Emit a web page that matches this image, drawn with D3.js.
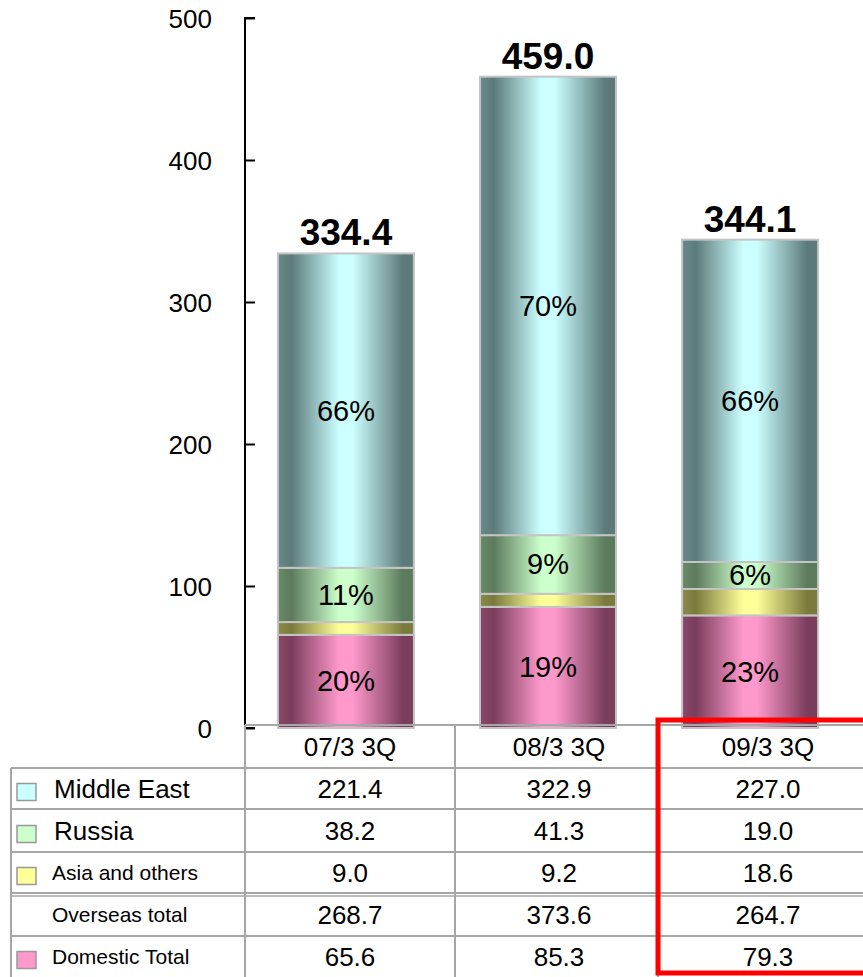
<!DOCTYPE html>
<html><head><meta charset="utf-8">
<script src="https://cdn.jsdelivr.net/npm/d3@7"></script>
<style>body{margin:0;background:#fff;}svg{display:block;font-family:"Liberation Sans",Arial,sans-serif;}</style>
</head><body>
<svg id="c" width="863" height="977"></svg>
<script>
const categories = ["07/3 3Q", "08/3 3Q", "09/3 3Q"];
const domestic = [65.6, 85.3, 79.3];
const asia = [9.0, 9.2, 18.6];
const russia = [38.2, 41.3, 19.0];
const middleEast = [221.4, 322.9, 227.0];
const overseasTotal = [268.7, 373.6, 264.7];
const totals = ["334.4", "459.0", "344.1"];
const shareDomestic = ["20%", "19%", "23%"];
const shareRussia = ["11%", "9%", "6%"];
const shareMiddleEast = ["66%", "70%", "66%"];
const yTicks = [0, 100, 200, 300, 400, 500];

const seriesNames = ["Domestic Total", "Asia and others", "Russia", "Middle East"];
const seriesValues = [domestic, asia, russia, middleEast];
const seriesShares = [shareDomestic, null, shareRussia, shareMiddleEast];
const lightCol = ["#ff99cc", "#ffff99", "#ccffcc", "#ccffff"];
const darkCol = ["#7a3d5c", "#7a7a3d", "#5c7a5c", "#5c7a7a"];

const svg = d3.select("#c");
const y = d3.scaleLinear().domain([0, 500]).range([728, 18]);
const x = d3.scaleBand().domain(categories).range([245, 851]).paddingInner(0.327).paddingOuter(0.163);

// gradients
const defs = svg.append("defs");
seriesNames.forEach((n, i) => {
  const g = defs.append("linearGradient").attr("id", "g" + i).attr("x1", "0").attr("x2", "1").attr("y1", "0").attr("y2", "0");
  [[0, d3.interpolateRgb(darkCol[i], lightCol[i])(0.12)], [0.1, darkCol[i]], [0.45, lightCol[i]], [0.55, lightCol[i]], [0.92, darkCol[i]], [1, darkCol[i]]]
    .forEach(s => g.append("stop").attr("offset", s[0]).attr("stop-color", s[1]));
});

// stacked bars
const stackData = categories.map((c, j) => {
  let base = 0;
  return seriesValues.map((vals, i) => { const s = { i, j, c, y0: base, y1: base + vals[j] }; base += vals[j]; return s; });
});
const segs = stackData.flat();
svg.append("g").selectAll("rect").data(segs).join("rect")
  .attr("x", d => x(d.c)).attr("width", x.bandwidth())
  .attr("y", d => y(d.y1)).attr("height", d => y(d.y0) - y(d.y1))
  .attr("fill", d => `url(#g${d.i})`).attr("stroke", "#c4c4c4").attr("stroke-width", 2);

// share labels
svg.append("g").selectAll("text").data(segs.filter(d => seriesShares[d.i])).join("text")
  .attr("x", d => x(d.c) + x.bandwidth() / 2).attr("y", d => (y(d.y0) + y(d.y1)) / 2 + 10)
  .attr("text-anchor", "middle").attr("font-size", 29).attr("fill", "#000")
  .text(d => seriesShares[d.i][d.j]);

// totals
svg.append("g").selectAll("text").data(categories).join("text")
  .attr("x", c => x(c) + x.bandwidth() / 2).attr("y", (c, j) => y(d3.sum(seriesValues, v => v[j])) - 8)
  .attr("text-anchor", "middle").attr("font-size", 37).attr("font-weight", "bold")
  .text((c, j) => totals[j]);

// y axis
const ax = svg.append("g").attr("transform", "translate(245,0)")
  .call(d3.axisRight(y).tickValues(yTicks).tickSize(10).tickFormat(""));
ax.select(".domain").attr("stroke", "#000").attr("stroke-width", 2).attr("d", `M10,${y(500)}H0V${y(0)}H10`);
ax.selectAll(".tick line").attr("stroke", "#000").attr("stroke-width", 2);
svg.append("g").selectAll("text").data(yTicks).join("text")
  .attr("x", 212).attr("y", d => y(d) + 10).attr("text-anchor", "end").attr("font-size", 26).text(d => d);

// table
const grid = "#a6a6a6";
const tg = svg.append("g");
const rowEdges = [725, 768, 809, 852, 893, 936, 977];
const rowLabels = ["Middle East", "Russia", "Asia and others", "Overseas total", "Domestic Total"];
const rowValues = [middleEast, russia, asia, overseasTotal, domestic];
const rowLegend = [lightCol[3], lightCol[2], lightCol[1], null, lightCol[0]];
const rowFont = [26, 26, 21, 21, 21];
// horizontal lines
tg.append("line").attr("x1", 245).attr("x2", 863).attr("y1", rowEdges[0]).attr("y2", rowEdges[0]).attr("stroke", grid).attr("stroke-width", 2);
rowEdges.slice(1, 6).forEach((ry, k) => {
  tg.append("line").attr("x1", 11).attr("x2", 863).attr("y1", ry).attr("y2", ry).attr("stroke", grid).attr("stroke-width", 2);
  if (k === 3) tg.append("line").attr("x1", 11).attr("x2", 863).attr("y1", ry + 3).attr("y2", ry + 3).attr("stroke", grid).attr("stroke-width", 1.5);
});
// vertical lines
tg.append("line").attr("x1", 11).attr("x2", 11).attr("y1", 768).attr("y2", 977).attr("stroke", grid).attr("stroke-width", 2);
[245, 455, 658].forEach(cx => tg.append("line").attr("x1", cx).attr("x2", cx).attr("y1", 725).attr("y2", 977).attr("stroke", grid).attr("stroke-width", 2));
// header
const colCenters = [350, 559, 768];
tg.selectAll("text.h").data(categories).join("text").attr("class", "h")
  .attr("x", (c, j) => colCenters[j]).attr("y", 756).attr("text-anchor", "middle").attr("font-size", 26).text(c => c);
// rows
rowLabels.forEach((lab, r) => {
  const top = rowEdges[r + 1], bot = rowEdges[r + 2];
  const base = (top + bot) / 2 + (rowFont[r] === 26 ? 9 : 7);
  if (rowLegend[r]) tg.append("rect").attr("x", 17).attr("y", (top + bot) / 2 - 5).attr("width", 19).attr("height", 17)
    .attr("fill", rowLegend[r]).attr("stroke", "#999").attr("stroke-width", 1.5);
  tg.append("text").attr("x", rowFont[r] === 26 ? 54 : 52).attr("y", base).attr("font-size", rowFont[r]).text(lab);
  rowValues[r].forEach((v, j) => tg.append("text").attr("x", colCenters[j]).attr("y", (top + bot) / 2 + 9)
    .attr("text-anchor", "middle").attr("font-size", 26).text(d3.format(".1f")(v)));
});
// red highlight
svg.append("rect").attr("x", 658).attr("y", 720).attr("width", 220).attr("height", 253)
  .attr("fill", "none").attr("stroke", "#ff0000").attr("stroke-width", 5);
</script>
</body></html>
